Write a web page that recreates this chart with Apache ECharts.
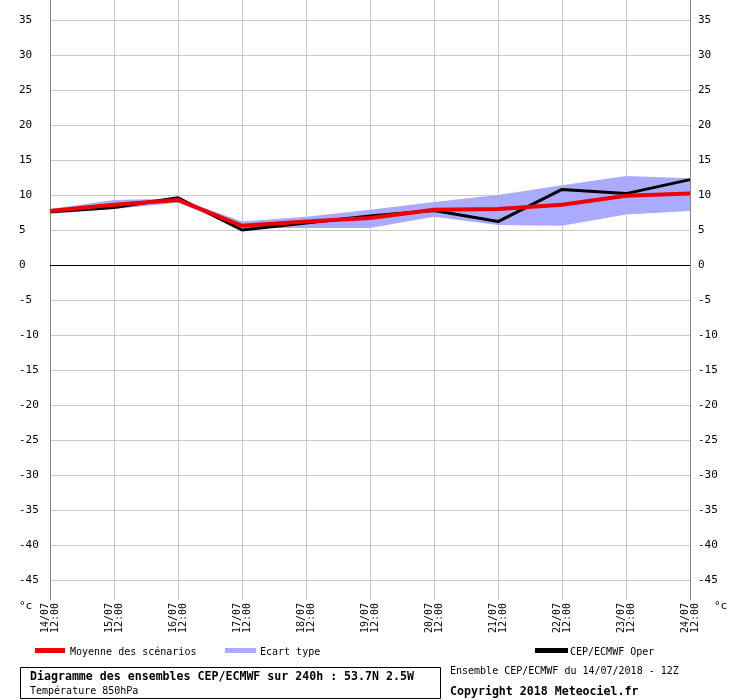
<!DOCTYPE html>
<html><head><meta charset="utf-8">
<script src="https://cdn.jsdelivr.net/npm/echarts@6/dist/echarts.min.js"></script>
<style>html,body{margin:0;padding:0;background:#fff}#c{width:740px;height:700px}</style>
</head><body><div id="c"></div>
<script>
const dates = ['14/07','15/07','16/07','17/07','18/07','19/07','20/07','21/07','22/07','23/07','24/07'];
const hour = '12:00';
const meanValues  = [7.7, 8.6, 9.3, 5.6, 6.2, 6.7, 7.9, 8.0, 8.6, 9.9, 10.2];
const operValues  = [7.6, 8.2, 9.6, 5.0, 6.0, 7.0, 7.8, 6.2, 10.8, 10.2, 12.2];
const spreadUpper = [8.0, 9.3, 9.5, 6.2, 6.9, 7.9, 9.0, 10.0, 11.4, 12.7, 12.4];
const spreadLower = [7.3, 8.0, 8.9, 5.3, 5.3, 5.3, 6.9, 5.7, 5.6, 7.2, 7.7];
const yTicks = [35,30,25,20,15,10,5,0,-5,-10,-15,-20,-25,-30,-35,-40,-45];
const yMin = -47.857, yMax = 37.857;

const categories = dates.map(d => d + '\n' + hour);
const spreadWidth = spreadUpper.map((u, i) => +(u - spreadLower[i]).toFixed(2));
const MONO = '"DejaVu Sans Mono", monospace';

const chart = echarts.init(document.getElementById('c'), null, {renderer: 'canvas'});
const yAxisBase = {
  type: 'value', min: yMin, max: yMax,
  axisLine: {show: true, lineStyle: {color: '#888', width: 1}},
  axisTick: {show: false, customValues: yTicks},
  axisLabel: {customValues: yTicks, color: '#000', fontFamily: MONO, fontSize: 11, align: 'left', padding: [4, 0, 0, 0]}
};
chart.setOption({
  animation: false,
  backgroundColor: '#fff',
  grid: {left: 50, right: 50, top: 0, bottom: 100, containLabel: false, outerBoundsMode: 'none'},
  xAxis: {
    type: 'category', data: categories, boundaryGap: false,
    axisLine: {show: true, lineStyle: {color: '#666', width: 1}},
    axisTick: {show: false},
    splitLine: {show: true, lineStyle: {color: '#c8c8c8', width: 1}},
    axisLabel: {interval: 0, rotate: 90, margin: 3, color: '#000', fontFamily: MONO, fontSize: 10, lineHeight: 10}
  },
  yAxis: [
    Object.assign({}, yAxisBase, {position: 'left',
      axisLabel: Object.assign({}, yAxisBase.axisLabel, {margin: 31}),
      splitLine: {show: true, lineStyle: {color: '#c8c8c8', width: 1}}}),
    Object.assign({}, yAxisBase, {position: 'right',
      axisLabel: Object.assign({}, yAxisBase.axisLabel, {margin: 8}),
      splitLine: {show: false}})
  ],
  series: [
    {type: 'line', data: spreadLower, stack: 'band', symbol: 'none', silent: true,
     lineStyle: {width: 0, opacity: 0},
     markLine: {silent: true, symbol: 'none', label: {show: false},
       lineStyle: {color: '#000', width: 1, type: 'solid'}, data: [{yAxis: 0}]}},
    {type: 'line', data: spreadWidth, stack: 'band', symbol: 'none', silent: true,
     lineStyle: {width: 0, opacity: 0}, areaStyle: {color: '#aaaaff', opacity: 1}},
    {type: 'line', data: operValues, symbol: 'none', lineStyle: {color: '#000', width: 3}},
    {type: 'line', data: meanValues, symbol: 'none', lineStyle: {color: '#ee0000', width: 4}}
  ],
  graphic: [
    {type: 'text', left: 19, top: 601, style: {text: '°c', font: '11px ' + MONO, fill: '#000'}},
    {type: 'text', left: 714, top: 601, style: {text: '°c', font: '11px ' + MONO, fill: '#000'}},
    {type: 'rect', shape: {x: 35, y: 648, width: 30, height: 5}, style: {fill: '#ee0000'}},
    {type: 'text', left: 70, top: 647, style: {text: 'Moyenne des scénarios', font: '10px ' + MONO, fill: '#000'}},
    {type: 'rect', shape: {x: 225, y: 648, width: 31, height: 5}, style: {fill: '#aaaaff'}},
    {type: 'text', left: 260, top: 647, style: {text: 'Ecart type', font: '10px ' + MONO, fill: '#000'}},
    {type: 'rect', shape: {x: 535, y: 648, width: 33, height: 5}, style: {fill: '#000'}},
    {type: 'text', left: 570, top: 647, style: {text: 'CEP/ECMWF Oper', font: '10px ' + MONO, fill: '#000'}},
    {type: 'rect', shape: {x: 20.5, y: 667.5, width: 420, height: 31}, style: {fill: 'none', stroke: '#000', lineWidth: 1}},
    {type: 'text', left: 30, top: 671, style: {text: 'Diagramme des ensembles CEP/ECMWF sur 240h : 53.7N 2.5W', font: 'bold 11.6px ' + MONO, fill: '#000'}},
    {type: 'text', left: 30, top: 686, style: {text: 'Température 850hPa', font: '10px ' + MONO, fill: '#000'}},
    {type: 'text', left: 450, top: 666, style: {text: 'Ensemble CEP/ECMWF du 14/07/2018 - 12Z', font: '10px ' + MONO, fill: '#000'}},
    {type: 'text', left: 450, top: 686, style: {text: 'Copyright 2018 Meteociel.fr', font: 'bold 11.6px ' + MONO, fill: '#000'}}
  ]
});
</script></body></html>
